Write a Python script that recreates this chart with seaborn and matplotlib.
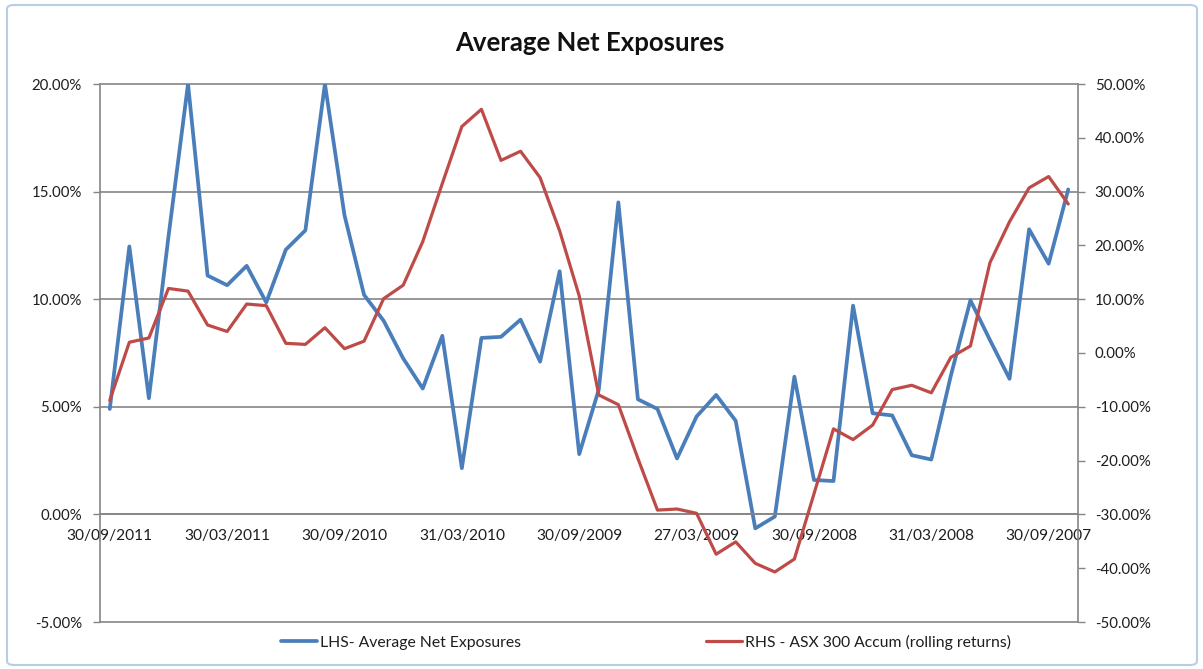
import matplotlib
matplotlib.use("Agg")
import matplotlib.pyplot as plt
from matplotlib.patches import FancyBboxPatch
import numpy as np
import pandas as pd
import seaborn as sns

# Month-end reporting dates, most recent first
dates = [
    "30/09/2011", "31/08/2011", "29/07/2011", "30/06/2011", "31/05/2011", "29/04/2011",
    "30/03/2011", "28/02/2011", "31/01/2011", "31/12/2010", "30/11/2010", "29/10/2010",
    "30/09/2010", "31/08/2010", "30/07/2010", "30/06/2010", "31/05/2010", "30/04/2010",
    "31/03/2010", "26/02/2010", "29/01/2010", "31/12/2009", "30/11/2009", "30/10/2009",
    "30/09/2009", "31/08/2009", "31/07/2009", "30/06/2009", "29/05/2009", "30/04/2009",
    "27/03/2009", "27/02/2009", "30/01/2009", "31/12/2008", "28/11/2008", "31/10/2008",
    "30/09/2008", "29/08/2008", "31/07/2008", "30/06/2008", "30/05/2008", "30/04/2008",
    "31/03/2008", "29/02/2008", "31/01/2008", "31/12/2007", "30/11/2007", "31/10/2007",
    "30/09/2007", "31/08/2007",
]

# LHS - average net exposure (%)
net_exposure = [
    4.9, 12.45, 5.4, 12.9, 20.0, 11.1, 10.65, 11.55, 9.85, 12.3,
    13.2, 20.0, 13.9, 10.2, 9.0, 7.25, 5.85, 8.3, 2.15, 8.2,
    8.25, 9.05, 7.1, 11.3, 2.8, 5.8, 14.5, 5.35, 4.9, 2.6,
    4.55, 5.55, 4.35, -0.65, -0.1, 6.4, 1.6, 1.55, 9.7, 4.7,
    4.6, 2.75, 2.55, 6.45, 9.95, 8.1, 6.3, 13.25, 11.65, 15.1,
]

# RHS - ASX 300 accumulation index, rolling returns (%)
asx300_rolling = [
    -8.8, 2.0, 2.8, 12.0, 11.5, 5.2, 4.0, 9.1, 8.8, 1.8,
    1.6, 4.7, 0.8, 2.2, 10.1, 12.6, 20.7, 31.5, 42.1, 45.3,
    35.8, 37.5, 32.6, 22.7, 10.6, -7.8, -9.6, -19.6, -29.2, -29.0,
    -29.8, -37.4, -35.1, -39.1, -40.7, -38.3, -26.2, -14.1, -16.1, -13.4,
    -6.8, -6.0, -7.4, -0.8, 1.3, 16.8, 24.4, 30.7, 32.8, 27.7,
]

label_every = 6
lhs_label = "LHS- Average Net Exposures"
rhs_label = "RHS - ASX 300 Accum (rolling returns)"
title = "Average Net Exposures"

df = pd.DataFrame({
    "pos": np.arange(len(dates)),
    "date": dates,
    "lhs": net_exposure,
    "rhs": asx300_rolling,
})

sns.set_style("white")
plt.rcParams["font.family"] = ["Lato", "DejaVu Sans"]

W, H = 1203, 669
fig = plt.figure(figsize=(W / 100, H / 100), dpi=100)
fig.patch.set_facecolor("white")

# Outer chart frame
frame = FancyBboxPatch((7 / W, 4 / H), 1190 / W, 660 / H,
                       boxstyle="round,pad=0,rounding_size=0.006",
                       transform=fig.transFigure, fill=False,
                       edgecolor="#b9cde5", linewidth=1.5)
fig.patches.append(frame)

left, right, top, bottom = 100, 1078, 84, 622
ax = fig.add_axes([left / W, 1 - bottom / H, (right - left) / W, (bottom - top) / H])
ax2 = ax.twinx()

blue = "#4a7ebb"
red = "#be4b48"
grid = "#858585"
text_c = "#1e1e1e"

sns.lineplot(data=df, x="pos", y="lhs", ax=ax, color=blue, linewidth=2.7,
             label=lhs_label, legend=False)
sns.lineplot(data=df, x="pos", y="rhs", ax=ax2, color=red, linewidth=2.3,
             label=rhs_label, legend=False)

n = len(dates)
ax.set_xlim(-0.5, n - 0.5)
ax.set_ylim(-5, 20)
ax2.set_ylim(-50, 50)

ax.set_yticks(np.arange(-5, 20.1, 5))
ax.set_yticklabels([f"{v:.2f}%" for v in np.arange(-5, 20.1, 5)])
ax2.set_yticks(np.arange(-50, 50.1, 10))
ax2.set_yticklabels([f"{v:.2f}%" for v in np.arange(-50, 50.1, 10)])

# Category axis: labels every six months, ticks between categories
major = list(range(0, n, label_every))
ax.set_xticks(major)
ax.set_xticklabels([dates[i] for i in major])
ax.set_xticks(np.arange(-0.5, n, 1.0), minor=True)
ax.set_xlabel("")
ax.set_ylabel("")
ax2.set_xlabel("")
ax2.set_ylabel("")

ax.grid(False)
ax2.grid(False)
for v in np.arange(-5, 20.1, 5):
    ax.axhline(v, color=grid, linewidth=1.2, zorder=0.5, clip_on=False)

ax.spines["bottom"].set_position(("data", 0))
for a in (ax, ax2):
    for s in a.spines.values():
        s.set_color(grid)
        s.set_linewidth(1.2)
    a.spines["top"].set_visible(False)
ax2.spines["bottom"].set_visible(False)
ax2.spines["left"].set_visible(False)
ax.spines["right"].set_visible(False)

fs = 10.8
ax.tick_params(axis="x", which="major", length=0, pad=10.5, labelsize=11.2, labelcolor=text_c)
ax.tick_params(axis="x", which="minor", length=5, width=1, color=grid, direction="out")
ax.tick_params(axis="y", length=5, width=1, color=grid, direction="out", pad=8,
               labelsize=fs, labelcolor=text_c)
ax2.tick_params(axis="y", length=5, width=1, color=grid, direction="out", pad=7,
                labelsize=fs, labelcolor=text_c)

ax.set_zorder(1)
ax2.set_zorder(2)
ax.patch.set_visible(False)
ax2.patch.set_visible(False)

fig.text(590 / W, 1 - 43 / H, title, ha="center", va="center",
         fontsize=18.5, fontweight="bold", color="#111111")

h1, l1 = ax.get_legend_handles_labels()
h2, l2 = ax2.get_legend_handles_labels()
fig.legend(h1 + h2, l1 + l2, loc="center", bbox_to_anchor=(646 / W, 1 - 642 / H),
           ncol=2, frameon=False, fontsize=11.3, handlelength=2.3, handletextpad=0.2,
           columnspacing=11.8, labelcolor=text_c)

fig.savefig("out.png", dpi=100, facecolor="white")
